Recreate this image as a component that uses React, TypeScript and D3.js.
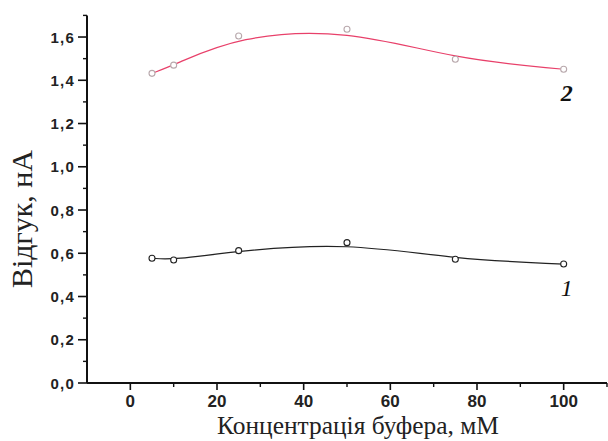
import React, { useEffect, useRef } from 'react';
import * as d3 from 'd3';

const concentrations = [5, 10, 25, 50, 75, 100];
const series1 = [0.577, 0.569, 0.612, 0.649, 0.572, 0.55];
const series2 = [1.432, 1.47, 1.605, 1.636, 1.497, 1.451];
const xTicks = [0, 20, 40, 60, 80, 100];
const yTicks = [0, 0.2, 0.4, 0.6, 0.8, 1.0, 1.2, 1.4, 1.6];
const xLabel = 'Концентрація буфера, мМ';
const yLabel = 'Відгук, нА';
const seriesLabels = ['1', '2'];

const W = 608;
const H = 441;
const SANS = "'Liberation Sans', Arial, sans-serif";
const SERIF = "'Liberation Serif', 'Times New Roman', serif";

export default function App() {
  const svgRef = useRef<SVGSVGElement>(null);

  useEffect(() => {
    if (!svgRef.current) return;
    const svg = d3.select(svgRef.current);
    svg.selectAll('*').remove();

    const x = d3.scaleLinear().domain([-10, 110]).range([87, 607]);
    const y = d3.scaleLinear().domain([0, 1.7]).range([383, 15.4]);

    const g = svg.append('g');

    // axes lines
    g.append('line')
      .attr('x1', x(-10)).attr('x2', x(110))
      .attr('y1', y(0)).attr('y2', y(0))
      .attr('stroke', '#111').attr('stroke-width', 2);
    g.append('line')
      .attr('x1', x(-10)).attr('x2', x(-10))
      .attr('y1', y(0)).attr('y2', y(1.7))
      .attr('stroke', '#111').attr('stroke-width', 2);

    // x ticks (major + minor)
    const xMinor = d3.range(-10, 111, 10).filter(v => !xTicks.includes(v) && v > -10);
    g.selectAll('.xmin').data(xMinor).enter().append('line')
      .attr('x1', d => x(d)).attr('x2', d => x(d))
      .attr('y1', y(0)).attr('y2', y(0) + 4)
      .attr('stroke', '#111').attr('stroke-width', 1.4);
    g.selectAll('.xmaj').data(xTicks).enter().append('line')
      .attr('x1', d => x(d)).attr('x2', d => x(d))
      .attr('y1', y(0)).attr('y2', y(0) + 7)
      .attr('stroke', '#111').attr('stroke-width', 1.6);
    g.selectAll('.xlab').data(xTicks).enter().append('text')
      .attr('x', d => x(d)).attr('y', y(0) + 24)
      .attr('text-anchor', 'middle')
      .attr('font-family', SANS)
      .attr('font-weight', 'bold').attr('font-size', 17)
      .attr('fill', '#222')
      .text(d => String(d));

    // y ticks
    const yMinor = d3.range(1, 18, 2).map(v => v / 10);
    g.selectAll('.ymin').data(yMinor).enter().append('line')
      .attr('x1', x(-10) - 4).attr('x2', x(-10))
      .attr('y1', d => y(d)).attr('y2', d => y(d))
      .attr('stroke', '#111').attr('stroke-width', 1.4);
    g.selectAll('.ymaj').data(yTicks).enter().append('line')
      .attr('x1', x(-10) - 9).attr('x2', x(-10))
      .attr('y1', d => y(d)).attr('y2', d => y(d))
      .attr('stroke', '#111').attr('stroke-width', 1.6);
    g.selectAll('.ylab').data(yTicks).enter().append('text')
      .attr('x', x(-10) - 12).attr('y', d => y(d) + 5.5)
      .attr('text-anchor', 'end')
      .attr('font-family', SANS)
      .attr('font-weight', 'bold').attr('font-size', 15)
      .attr('letter-spacing', 1.2)
      .attr('fill', '#222')
      .text(d => d.toFixed(1).replace('.', ','));

    // axis titles, sized to the reference lengths
    const fit = (sel: any, len: number) => {
      const node = sel.node() as SVGTextElement | null;
      if (!node) return;
      const w = node.getComputedTextLength();
      if (w > 0) sel.attr('font-size', 20 * len / w);
    };
    const xt = g.append('text')
      .attr('x', 358).attr('y', 434)
      .attr('text-anchor', 'middle')
      .attr('font-family', SERIF)
      .attr('font-size', 20).attr('fill', '#222')
      .text(xLabel);
    fit(xt, 282);
    const yt = g.append('text')
      .attr('transform', `translate(32, 219) rotate(-90)`)
      .attr('text-anchor', 'middle')
      .attr('font-family', SERIF)
      .attr('font-size', 20).attr('fill', '#222')
      .text(yLabel);
    fit(yt, 138);

    const line = d3.line<number>()
      .x((_, i) => x(concentrations[i]))
      .y(d => y(d))
      .curve(d3.curveBasis);

    const seriesList = [
      { values: series1, line: '#222', point: '#222', label: seriesLabels[0], bold: false },
      { values: series2, line: '#e8406a', point: '#b8a8ac', label: seriesLabels[1], bold: true },
    ];

    seriesList.forEach(s => {
      g.append('path')
        .attr('d', line(s.values) || '')
        .attr('fill', 'none')
        .attr('stroke', s.line)
        .attr('stroke-width', 1.2);
      g.selectAll(null).data(s.values).enter().append('circle')
        .attr('cx', (_, i) => x(concentrations[i]))
        .attr('cy', d => y(d))
        .attr('r', 3)
        .attr('fill', 'white')
        .attr('stroke', s.point)
        .attr('stroke-width', 1.1);
      const last = s.values[s.values.length - 1];
      g.append('text')
        .attr('x', x(100) + 3)
        .attr('y', y(last) + 32)
        .attr('text-anchor', 'middle')
        .attr('font-family', SERIF)
        .attr('font-style', 'italic')
        .attr('font-weight', s.bold ? 'bold' : 'normal')
        .attr('font-size', 24)
        .attr('fill', '#111')
        .text(s.label);
    });
  }, []);

  return (
    <svg
      ref={svgRef}
      width={W}
      height={H}
      style={{ position: 'absolute', left: 0, top: 0, background: '#fff' }}
    />
  );
}
